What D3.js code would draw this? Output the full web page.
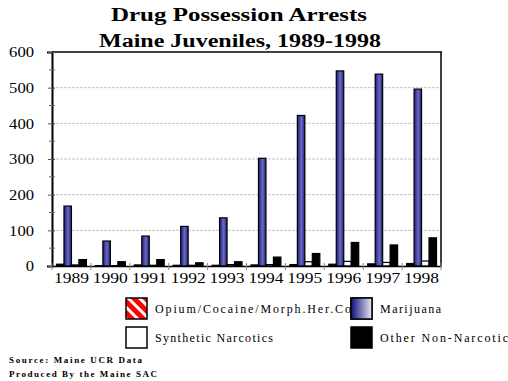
<!DOCTYPE html>
<html><head><meta charset="utf-8">
<script src="https://cdn.jsdelivr.net/npm/d3@7"></script>
<style>body{margin:0;background:#fff}svg{display:block}</style>
</head><body>
<script>
const years = ["1989","1990","1991","1992","1993","1994","1995","1996","1997","1998"];
const seriesNames = ["Opium/Cocaine/Morph.Her.Co","Marijuana","Synthetic Narcotics","Other Non-Narcotic"];
const opium     = [5, 1, 3, 2, 2, 3, 4, 5, 6, 7];
const marijuana = [168, 70, 84, 111, 135, 302, 422, 547, 538, 496];
const synthetic = [3, 1, 2, 2, 4, 4, 12, 13, 10, 14];
const other     = [18, 12, 18, 9, 12, 25, 35, 66, 59, 79];
const yTicks = [0, 100, 200, 300, 400, 500, 600];
const seriesValues = [opium, marijuana, synthetic, other];

const W = 508, H = 381;
const svg = d3.select("body").append("svg").attr("width", W).attr("height", H);
const defs = svg.append("defs");
const g1 = defs.append("linearGradient").attr("id","mj").attr("x1","0").attr("x2","1").attr("y1","0").attr("y2","0");
g1.append("stop").attr("offset","0").attr("stop-color","#1c1c80");
g1.append("stop").attr("offset","0.55").attr("stop-color","#6a6ac0");
g1.append("stop").attr("offset","1").attr("stop-color","#1c1c80");
const g2 = defs.append("linearGradient").attr("id","mjleg").attr("x1","0").attr("x2","1").attr("y1","0").attr("y2","0");
g2.append("stop").attr("offset","0").attr("stop-color","#101078");
g2.append("stop").attr("offset","1").attr("stop-color","#e8e8f4");
const pat = defs.append("pattern").attr("id","op").attr("patternUnits","userSpaceOnUse")
  .attr("width",8).attr("height",8).attr("patternTransform","rotate(-45)");
pat.append("rect").attr("width",8).attr("height",8).attr("fill","#ff0000");
pat.append("rect").attr("width",3).attr("height",8).attr("fill","#ffffff");

const pLeft = 52, pRight = 441, pTop = 52, pBottom = 266;
const x = d3.scaleBand().domain(years).range([pLeft, pRight]).paddingInner(0).paddingOuter(0);
const y = d3.scaleLinear().domain([0, 600]).range([pBottom, pTop]);
const xs = d3.scaleBand().domain(d3.range(4)).range([0, x.bandwidth()]).paddingOuter(0.6).paddingInner(0);

const serif = "'Liberation Serif','DejaVu Serif',serif";

// title
svg.append("text").attr("x", 111).attr("y", 21)
  .attr("font-family", serif).attr("font-weight","bold").attr("font-size",18)
  .attr("textLength", 256).attr("lengthAdjust","spacingAndGlyphs").text("Drug Possession Arrests");
svg.append("text").attr("x", 99).attr("y", 47)
  .attr("font-family", serif).attr("font-weight","bold").attr("font-size",18)
  .attr("textLength", 282).attr("lengthAdjust","spacingAndGlyphs").text("Maine Juveniles, 1989-1998");

// gridlines
svg.append("g").selectAll("line").data(yTicks.filter(d => d > 0 && d < 600)).join("line")
  .attr("x1", pLeft).attr("x2", pRight).attr("y1", d => y(d)).attr("y2", d => y(d))
  .attr("stroke", "#c8c8c8").attr("stroke-width", 1).attr("stroke-dasharray","3,1");

// frame top/right
svg.append("line").attr("x1", pLeft).attr("x2", pRight+1).attr("y1", pTop).attr("y2", pTop).attr("stroke","#000").attr("stroke-width",1.5);
svg.append("line").attr("x1", pRight).attr("x2", pRight).attr("y1", pTop).attr("y2", pBottom).attr("stroke","#000").attr("stroke-width",1.5);

// bars
const grp = svg.append("g").selectAll("g").data(years).join("g")
  .attr("transform", d => `translate(${x(d)},0)`);
const fills = ["#000", "url(#mj)", "#fff", "#000"];
grp.selectAll("rect").data((d, i) => seriesValues.map((s, k) => ({k, v: s[i]}))).join("rect")
  .attr("x", d => xs(d.k)).attr("width", xs.bandwidth())
  .attr("y", d => y(d.v)).attr("height", d => Math.max(0, pBottom - y(d.v)))
  .attr("fill", d => fills[d.k]).attr("stroke", "#000").attr("stroke-width", 1.2);

// y axis
const yAxis = svg.append("g").attr("transform", `translate(${pLeft},0)`)
  .call(d3.axisLeft(y).tickValues(yTicks).tickSize(5).tickPadding(13));
yAxis.select(".domain").attr("stroke","#000").attr("stroke-width",2);
yAxis.selectAll(".tick line").attr("stroke","#555").attr("x2", 3).attr("x1",-4);
yAxis.selectAll("text").attr("font-family", serif).attr("font-size", 15).attr("fill","#000")
  .attr("textLength", d => String(d).length * 8.3).attr("lengthAdjust","spacingAndGlyphs");
// minor ticks
svg.append("g").selectAll("line").data(d3.range(50, 600, 100)).join("line")
  .attr("x1", pLeft - 3).attr("x2", pLeft + 3).attr("y1", d => y(d)).attr("y2", d => y(d)).attr("stroke","#666");

// x axis
const xAxis = svg.append("g").attr("transform", `translate(0,${pBottom})`)
  .call(d3.axisBottom(x).tickSize(0).tickPadding(6));
xAxis.select(".domain").attr("stroke","#000").attr("stroke-width",1.5);
xAxis.selectAll("text").attr("font-family", serif).attr("font-size", 15).attr("fill","#000")
  .attr("textLength", 35).attr("lengthAdjust","spacingAndGlyphs");
svg.append("g").selectAll("line").data(years.concat(["end"])).join("line")
  .attr("x1", (d, i) => pLeft + i * x.bandwidth()).attr("x2", (d, i) => pLeft + i * x.bandwidth())
  .attr("y1", pBottom - 3).attr("y2", pBottom + 4).attr("stroke","#888").attr("stroke-width",1);

// legend
const legFills = ["url(#op)", "url(#mjleg)", "#fff", "#000"];
const legPos = [[126, 298], [351, 298], [126, 327], [351, 327]];
const legLen = [196, 61, 118, 128];
const leg = svg.append("g").selectAll("g").data(seriesNames).join("g")
  .attr("transform", (d, i) => `translate(${legPos[i][0]},${legPos[i][1]})`);
leg.append("text").attr("x", 29).attr("y", 15).attr("font-family", serif).attr("font-size", 12)
  .attr("textLength", (d, i) => legLen[i]).attr("lengthAdjust","spacing").text(d => d);
leg.append("rect").attr("width", 21).attr("height", 21).attr("fill", (d, i) => legFills[i])
  .attr("stroke","#000").attr("stroke-width",1.5);
// redraw marijuana swatch on top to clip first label
svg.append("rect").attr("x", 351).attr("y", 298).attr("width", 21).attr("height", 21)
  .attr("fill", "url(#mjleg)").attr("stroke","#000").attr("stroke-width",1.5);

svg.append("text").attr("x", 9).attr("y", 363).attr("font-family", serif).attr("font-weight","bold")
  .attr("font-size", 9).attr("textLength", 133).attr("lengthAdjust","spacing").text("Source: Maine UCR Data");
svg.append("text").attr("x", 9).attr("y", 377).attr("font-family", serif).attr("font-weight","bold")
  .attr("font-size", 9).attr("textLength", 148).attr("lengthAdjust","spacing").text("Produced By the Maine SAC");
</script>
</body></html>
